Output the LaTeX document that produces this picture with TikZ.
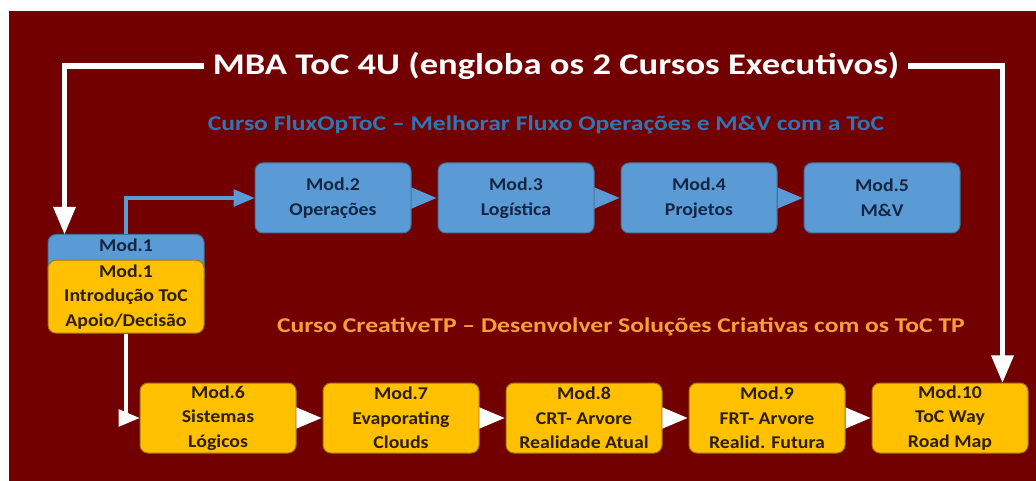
\documentclass[tikz,border=0pt]{standalone}
\usepackage{fontspec}
\setmainfont{Carlito}
\newfontfamily\wideface[FakeStretch=1.22]{Carlito}
\newfontfamily\boxface[FakeStretch=1.1]{Carlito}
\usepackage{tikz}
\usetikzlibrary{arrows}
\usetikzlibrary{positioning}
\definecolor{bgRed}{RGB}{115,0,0}
\definecolor{fluxBody}{RGB}{91,155,213}
\definecolor{fluxBorder}{RGB}{65,113,156}
\definecolor{fluxText}{RGB}{22,38,66}
\definecolor{fluxTitle}{RGB}{46,117,182}
\definecolor{tpBody}{RGB}{255,192,0}
\definecolor{tpBorder}{RGB}{160,120,20}
\definecolor{tpText}{RGB}{45,30,0}
\definecolor{tpTitle}{RGB}{245,160,60}
\tikzstyle{module} = [rectangle, rounded corners=8pt, minimum width=156pt,
        minimum height=70pt, inner sep=0pt, align=center, line width=1pt,
        font={\boxface\fontsize{18}{24.5}\selectfont\bfseries}]
\tikzstyle{flux} = [module, fill=fluxBody, draw=fluxBorder, text=fluxText]
\tikzstyle{tp} = [module, fill=tpBody, draw=tpBorder, text=tpText]
\tikzstyle{headline} = [font={\wideface\fontsize{30}{36}\selectfont\bfseries}, text=white, inner xsep=9pt]
\tikzstyle{course} = [font={\wideface\fontsize{21}{25}\selectfont\bfseries}]
\tikzstyle{bigwire} = [draw=white, line width=5.5pt, -triangle 45]
\tikzstyle{fluxwire} = [draw=fluxBody, line width=4pt, -triangle 45]
\tikzstyle{tpwire} = [draw=white, line width=4pt, -triangle 45]
\tikzstyle{fluxstep} = [draw=fluxBody, line width=5pt, -triangle 45, shorten >=1pt]
\tikzstyle{tpstep} = [draw=white, line width=5pt, -triangle 45, shorten >=1pt]

\begin{document}
\begin{tikzpicture}[x=1pt, y=-1pt]
            \useasboundingbox (0,0) rectangle (1036,481);
            \fill [white] (0,0) rectangle (1036,481);
            \fill [bgRed] (9,11) rectangle (1036,481);
            % titles
            \node [headline] (mba) at (556,66) {MBA ToC 4U (engloba os 2 Cursos Executivos)};
            \node [course, text=fluxTitle] (fluxop) at (546,125) {Curso FluxOpToC – Melhorar Fluxo Operações e M\&V com a ToC};
            \node [course, text=tpTitle] (creative) at (621,327) {Curso CreativeTP – Desenvolver Soluções Criativas com os ToC TP};
            % FluxOpToC modules
            \node [flux] (mod2) at (333,198) {Mod.2\\Operações};
            \node [flux, right=26pt of mod2] (mod3) {Mod.3\\Logística};
            \node [flux, right=26pt of mod3] (mod4) {Mod.4\\Projetos};
            \node [flux, right=26pt of mod4] (mod5) {Mod.5\\M\&V};
            % Mod.1, shared by both courses
            \node [flux, anchor=north, minimum height=0pt, inner ysep=4pt, text depth=30pt] (mod1top) at (126,234) {Mod.1};
            \node [tp, below=-26pt of mod1top, minimum height=73pt] (mod1) {Mod.1\\Introdução ToC\\Apoio/Decisão};
            % CreativeTP modules
            \node [tp] (mod6) at (218,418) {Mod.6\\Sistemas\\Lógicos};
            \node [tp, right=26pt of mod6] (mod7) {Mod.7\\Evaporating\\Clouds};
            \node [tp, right=26pt of mod7] (mod8) {Mod.8\\CRT- Arvore\\Realidade Atual};
            \node [tp, right=26pt of mod8] (mod9) {Mod.9\\FRT- Arvore\\Realid. Futura};
            \node [tp, right=26pt of mod9] (mod10) {Mod.10\\ToC Way\\Road Map};
            \coordinate (mod1in) at ([xshift=17pt]mod1top.north west);
            \coordinate (mod10in) at ([xshift=-26pt]mod10.north east);
            % connectors
            \draw [bigwire] (mba.west) -| (mod1in);
            \draw [bigwire] (mba.east) -| (mod10in);
            \draw [fluxwire] (mod1top.north) |- (mod2.west);
            \draw [tpwire] (mod1.south) |- (mod6.west);
            \draw [fluxstep] (mod2) -- (mod3);
            \draw [fluxstep] (mod3) -- (mod4);
            \draw [fluxstep] (mod4) -- (mod5);
            \draw [tpstep] (mod6) -- (mod7);
            \draw [tpstep] (mod7) -- (mod8);
            \draw [tpstep] (mod8) -- (mod9);
            \draw [tpstep] (mod9) -- (mod10);
        \end{tikzpicture}
\end{document}
